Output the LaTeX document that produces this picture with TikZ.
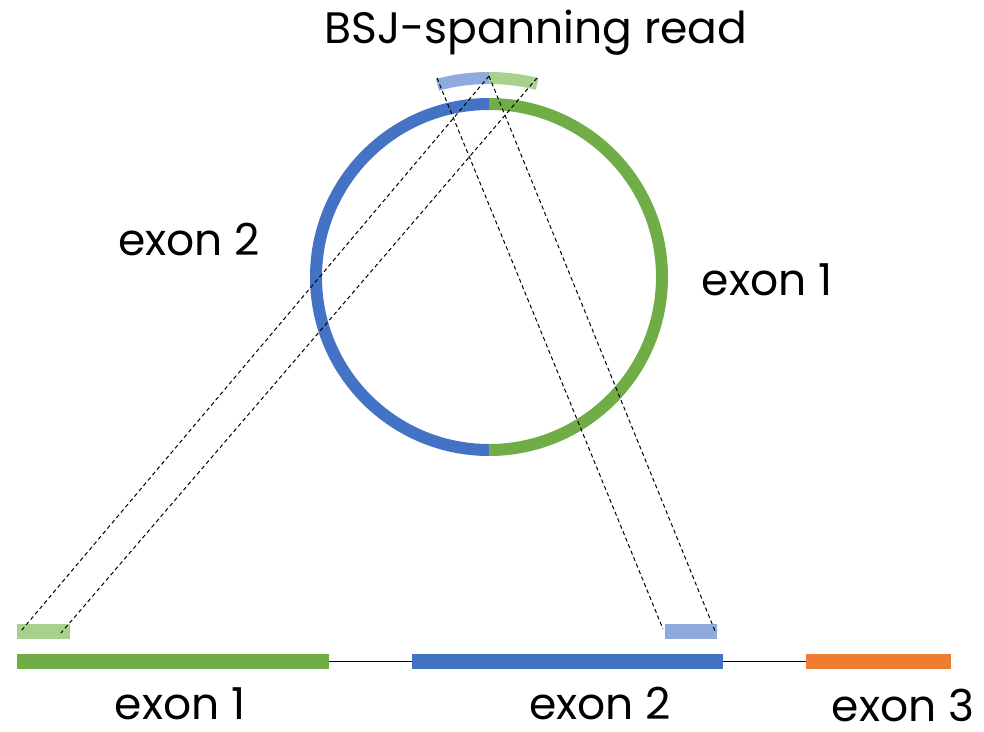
\documentclass[tikz,border=0pt]{standalone}
\usepackage{fontspec}
\setmainfont{Poppins}
\usetikzlibrary{positioning,calc}
\definecolor{exgreen}{HTML}{70AD47}
\definecolor{exblue}{HTML}{4472C4}
\definecolor{exorange}{HTML}{ED7D31}
\definecolor{rdgreen}{HTML}{A9D18E}
\definecolor{rdblue}{HTML}{8FAADC}
\begin{document}
\begin{tikzpicture}[x=1pt, y=-1pt,
  bar/.style={rectangle, inner sep=0pt, minimum height=15pt},
  lbl/.style={font=\fontsize{44}{50}\selectfont, inner sep=0pt, text depth=0pt, anchor=base},
  link/.style={dashed, dash pattern=on 4pt off 3pt, line width=1pt}]
\useasboundingbox (0,0) rectangle (984,731);
% circular RNA
\coordinate (c) at (489,277);
\draw[exblue, line width=12pt] ($(c)+(0,-173)$) arc[start angle=-90, end angle=-270, radius=173];
\draw[exgreen, line width=12pt] ($(c)+(0,-173)$) arc[start angle=-90, end angle=90, radius=173];
% BSJ-spanning read
\draw[rdblue, line width=12pt] ($(c)+(-105:199)$) arc[start angle=-105, end angle=-90, radius=199];
\draw[rdgreen, line width=12pt] ($(c)+(-90:199)$) arc[start angle=-90, end angle=-76, radius=199];
\coordinate (r1) at (437,78);
\coordinate (r2) at (489,76);
\coordinate (r3) at (537,78);
% linear exons
\node[bar, fill=exgreen, minimum width=312pt] (ex1) at (173,661.5) {};
\node[bar, fill=exblue, minimum width=311pt] (ex2) at (567.5,661.5) {};
\node[bar, fill=exorange, minimum width=145pt] (ex3) at (878.5,661.5) {};
\draw[line width=1.2pt] (ex1.east) -- (ex2.west);
\draw[line width=1.2pt] (ex2.east) -- (ex3.west);
% mapped read pieces
\node[bar, fill=rdgreen, minimum width=53pt] (rg) at (43.5,631) {};
\node[bar, fill=rdblue, minimum width=52pt] (rb) at (691,631.5) {};
\coordinate (g1) at (21,631);
\coordinate (g2) at (61,633);
\coordinate (b1) at (663,629);
\coordinate (b2) at (715,631);
\draw[link] (r2) -- (g1);
\draw[link] (r3) -- (g2);
\draw[link] (r1) -- (b1);
\draw[link] (r2) -- (b2);
% labels
\node[lbl] (tread) at (536,43) {BSJ-spanning read};
\node[lbl] (tc2) at (189,255) {exon 2};
\node[lbl] (tc1) at (767,295) {exon 1};
\node[lbl] (t1) at (180,719) {exon 1};
\node[lbl] (t2) at (600,719) {exon 2};
\node[lbl] (t3) at (903,721) {exon 3};
\end{tikzpicture}
\end{document}
